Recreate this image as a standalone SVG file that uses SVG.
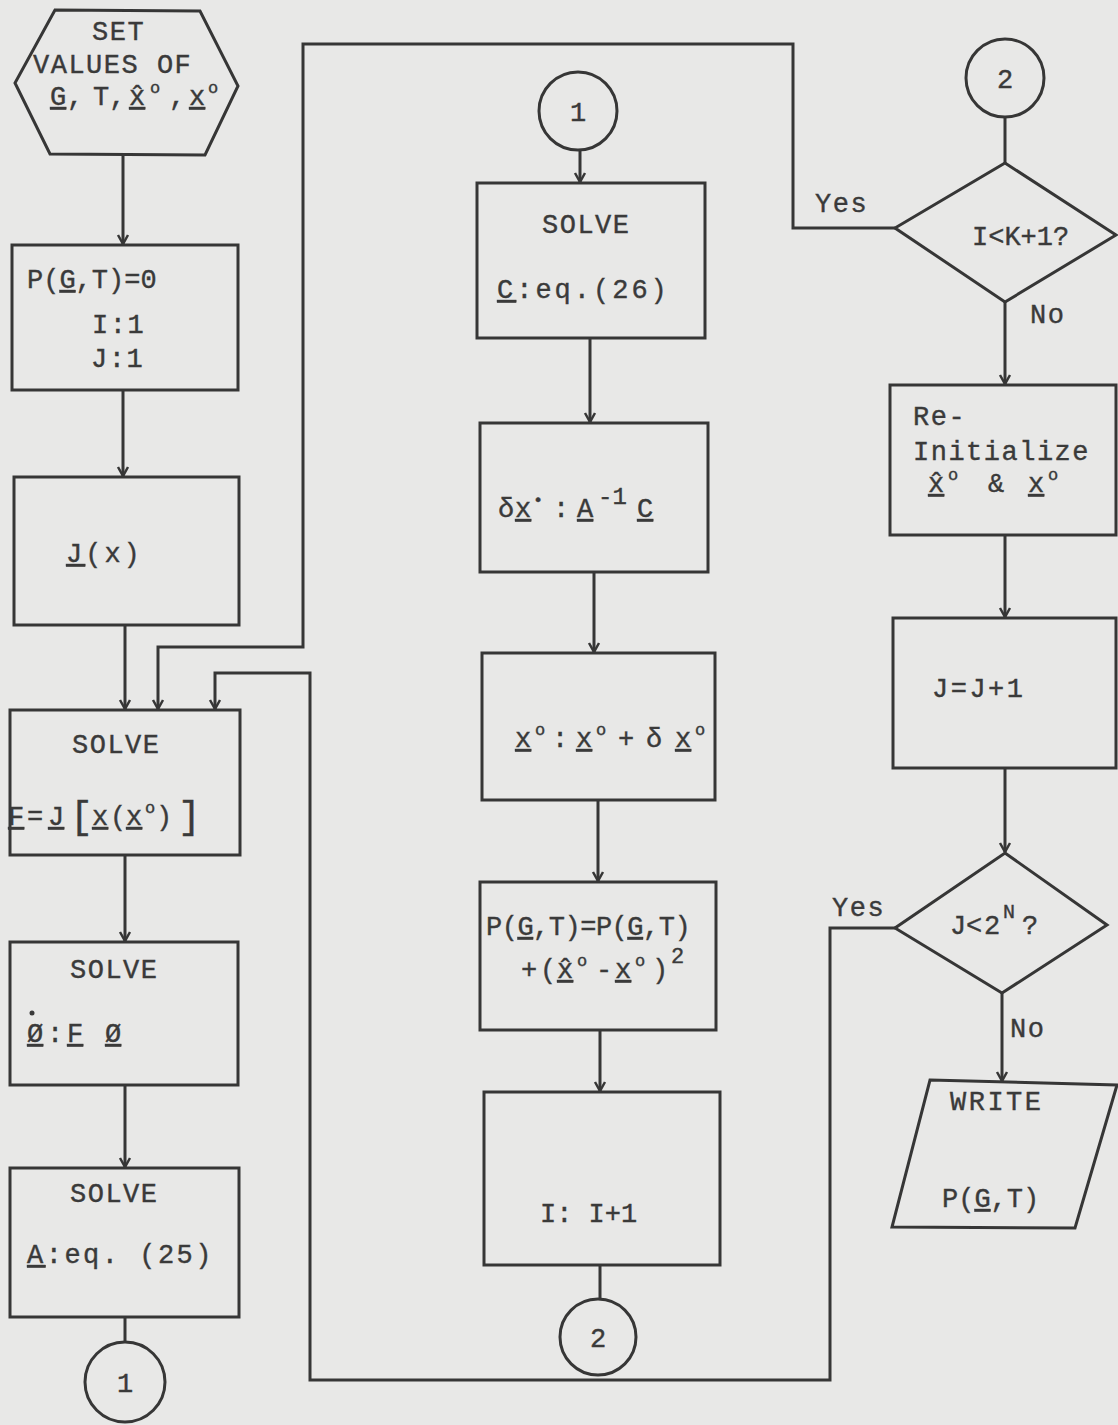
<svg xmlns="http://www.w3.org/2000/svg" width="1118" height="1425" viewBox="0 0 1118 1425">
<defs>
<style>
.n{fill:none;stroke:#363636;stroke-width:3;stroke-linejoin:miter}
.c{fill:none;stroke:#363636;stroke-width:3}
.t{font-family:"Liberation Mono","DejaVu Sans Mono",monospace;font-size:27px;fill:#3a3a3a;stroke:#3a3a3a;stroke-width:0.4;letter-spacing:1.5px}
.u{text-decoration:underline}
.s{font-size:17px}
.m{text-anchor:middle;letter-spacing:0}
.z{letter-spacing:0}
</style>
<marker id="ah" viewBox="-1 -7 11 14" refX="9" refY="0" markerWidth="11" markerHeight="14" markerUnits="userSpaceOnUse" orient="auto">
<path d="M0,-5 L9,0 L0,5" fill="none" stroke="#363636" stroke-width="2.5"/>
</marker>
</defs>
<rect width="1118" height="1425" fill="#e8e8e7"/>

<g id="connectors">
<path class="c" d="M123,155 V244" marker-end="url(#ah)"/>
<path class="c" d="M123,390 V476" marker-end="url(#ah)"/>
<path class="c" d="M125,625 V709" marker-end="url(#ah)"/>
<path class="c" d="M895,228 H793 V44 H303 V647 H158 V709" marker-end="url(#ah)"/>
<path class="c" d="M895,928 H830 V1380 H310 V673 H215 V709" marker-end="url(#ah)"/>
<path class="c" d="M125,855 V941" marker-end="url(#ah)"/>
<path class="c" d="M125,1085 V1167" marker-end="url(#ah)"/>
<path class="c" d="M125,1317 V1342"/>
<path class="c" d="M580,150 V182" marker-end="url(#ah)"/>
<path class="c" d="M590,338 V422" marker-end="url(#ah)"/>
<path class="c" d="M594,572 V652" marker-end="url(#ah)"/>
<path class="c" d="M598,800 V881" marker-end="url(#ah)"/>
<path class="c" d="M600,1030 V1091" marker-end="url(#ah)"/>
<path class="c" d="M600,1265 V1299"/>
<path class="c" d="M1005,117 V163"/>
<path class="c" d="M1005,302 V384" marker-end="url(#ah)"/>
<path class="c" d="M1005,535 V617" marker-end="url(#ah)"/>
<path class="c" d="M1005,768 V852" marker-end="url(#ah)"/>
<path class="c" d="M1002,993 V1081" marker-end="url(#ah)"/>
<text class="t" x="815" y="212">Yes</text>
<text class="t" x="1030" y="323">No</text>
<text class="t" x="832" y="916">Yes</text>
<text class="t" x="1010" y="1037">No</text>
</g>

<g id="start">
<polygon class="n" points="55,10 200,11 238,86 205,155 50,154 15,83"/>
<text class="t" x="92" y="40">SET</text>
<text class="t" x="33" y="73">VALUES OF</text>
<text class="t z" y="105"><tspan x="50" class="u">G</tspan><tspan x="67">,</tspan><tspan x="93">T,</tspan><tspan x="129" class="u">x̂</tspan><tspan x="150" y="93" class="s">o</tspan><tspan x="169" y="105">,</tspan><tspan x="189" class="u">x</tspan><tspan x="208" y="93" class="s">o</tspan></text>
</g>

<g id="init">
<rect class="n" x="12" y="245" width="226" height="145"/>
<text class="t z" x="27" y="288">P(<tspan class="u">G</tspan>,T)=0</text>
<text class="t" x="92" y="333">I:1</text>
<text class="t" x="91" y="367">J:1</text>
</g>

<g id="jx">
<rect class="n" x="14" y="477" width="225" height="148"/>
<text class="t" x="66" y="562" style="letter-spacing:3px"><tspan class="u">J</tspan>(x)</text>
</g>

<g id="solveF">
<rect class="n" x="10" y="710" width="230" height="145"/>
<text class="t" x="72" y="753">SOLVE</text>
<text class="t z" y="825"><tspan x="8" class="u">F</tspan><tspan x="27">=</tspan><tspan x="48" class="u">J</tspan><tspan x="70" y="828" font-size="38">[</tspan><tspan x="92" y="825" class="u">x</tspan><tspan x="110">(</tspan><tspan x="126" class="u">x</tspan><tspan x="145" y="813" class="s">o</tspan><tspan x="156" y="825">)</tspan><tspan x="178" y="828" font-size="38">]</tspan></text>
</g>

<g id="solvePhi">
<rect class="n" x="10" y="942" width="228" height="143"/>
<text class="t" x="70" y="978">SOLVE</text>
<circle cx="32" cy="1013" r="2.5" fill="#3a3a3a"/>
<text class="t z" y="1042"><tspan x="27" class="u">Ø</tspan><tspan x="47">:</tspan><tspan x="67" class="u">F</tspan><tspan x="105" class="u">Ø</tspan></text>
</g>

<g id="solveA">
<rect class="n" x="10" y="1168" width="229" height="149"/>
<text class="t" x="70" y="1202">SOLVE</text>
<text class="t" x="27" y="1263" style="letter-spacing:2.5px"><tspan class="u">A</tspan>:eq.  (25)</text>
</g>

<g id="conn1a">
<circle class="n" cx="125" cy="1382" r="40"/>
<text class="t m" x="125" y="1392">1</text>
</g>

<g id="conn1b">
<circle class="n" cx="578" cy="111" r="39"/>
<text class="t m" x="578" y="121">1</text>
</g>

<g id="solveC">
<rect class="n" x="477" y="183" width="228" height="155"/>
<text class="t" x="542" y="233">SOLVE</text>
<text class="t" x="497" y="298" style="letter-spacing:3px"><tspan class="u">C</tspan>:eq.(26)</text>
</g>

<g id="deltax">
<rect class="n" x="480" y="423" width="228" height="149"/>
<text class="t z" y="517"><tspan x="498">δ</tspan><tspan x="515" class="u">x</tspan><tspan x="533" y="505" class="s">•</tspan><tspan x="553" y="517">:</tspan><tspan x="577" class="u">A</tspan><tspan x="598" y="504" font-size="24">-1</tspan><tspan x="637" y="517" class="u">C</tspan></text>
</g>

<g id="update">
<rect class="n" x="482" y="653" width="233" height="147"/>
<text class="t z" y="747"><tspan x="515" class="u">x</tspan><tspan x="535" y="735" class="s">o</tspan><tspan x="552" y="747">:</tspan><tspan x="576" class="u">x</tspan><tspan x="596" y="735" class="s">o</tspan><tspan x="618" y="747">+</tspan><tspan x="646">δ</tspan><tspan x="675" class="u">x</tspan><tspan x="695" y="735" class="s">o</tspan></text>
</g>

<g id="accum">
<rect class="n" x="480" y="882" width="236" height="148"/>
<text class="t" x="486" y="935" style="letter-spacing:-0.5px">P(<tspan class="u">G</tspan>,T)=P(<tspan class="u">G</tspan>,T)</text>
<text class="t z" y="978"><tspan x="521">+</tspan><tspan x="540">(</tspan><tspan x="557" class="u">x̂</tspan><tspan x="577" y="966" class="s">o</tspan><tspan x="596" y="978">-</tspan><tspan x="615" class="u">x</tspan><tspan x="635" y="966" class="s">o</tspan><tspan x="652" y="978">)</tspan><tspan x="671" y="963" font-size="22">2</tspan></text>
</g>

<g id="incI">
<rect class="n" x="484" y="1092" width="236" height="173"/>
<text class="t z" x="540" y="1222">I: I+1</text>
</g>

<g id="conn2a">
<circle class="n" cx="598" cy="1337" r="38"/>
<text class="t m" x="598" y="1347">2</text>
</g>

<g id="conn2b">
<circle class="n" cx="1005" cy="78" r="39"/>
<text class="t m" x="1005" y="88">2</text>
</g>

<g id="decI">
<polygon class="n" points="1005,163 1116,235 1005,302 895,228"/>
<text class="t z" x="972" y="245">I&lt;K+1?</text>
</g>

<g id="reinit">
<rect class="n" x="890" y="385" width="226" height="150"/>
<text class="t" x="913" y="425">Re-</text>
<text class="t" x="913" y="460">Initialize</text>
<text class="t z" y="492"><tspan x="928" class="u">x̂</tspan><tspan x="948" y="480" class="s">o</tspan><tspan x="988" y="492">&amp;</tspan><tspan x="1028" class="u">x</tspan><tspan x="1048" y="480" class="s">o</tspan></text>
</g>

<g id="incJ">
<rect class="n" x="893" y="618" width="223" height="150"/>
<text class="t" x="932" y="697" style="letter-spacing:2.5px">J=J+1</text>
</g>

<g id="decJ">
<polygon class="n" points="1005,853 1107,925 1002,993 895,928"/>
<text class="t z" y="934"><tspan x="950">J</tspan><tspan x="966">&lt;</tspan><tspan x="984">2</tspan><tspan x="1003" y="918" font-size="20">N</tspan><tspan x="1022" y="934">?</tspan></text>
</g>

<g id="write">
<polygon class="n" points="930,1080 1117,1085 1075,1228 892,1227"/>
<text class="t" x="950" y="1110" style="letter-spacing:2.5px">WRITE</text>
<text class="t z" x="942" y="1207">P(<tspan class="u">G</tspan>,T)</text>
</g>
</svg>
